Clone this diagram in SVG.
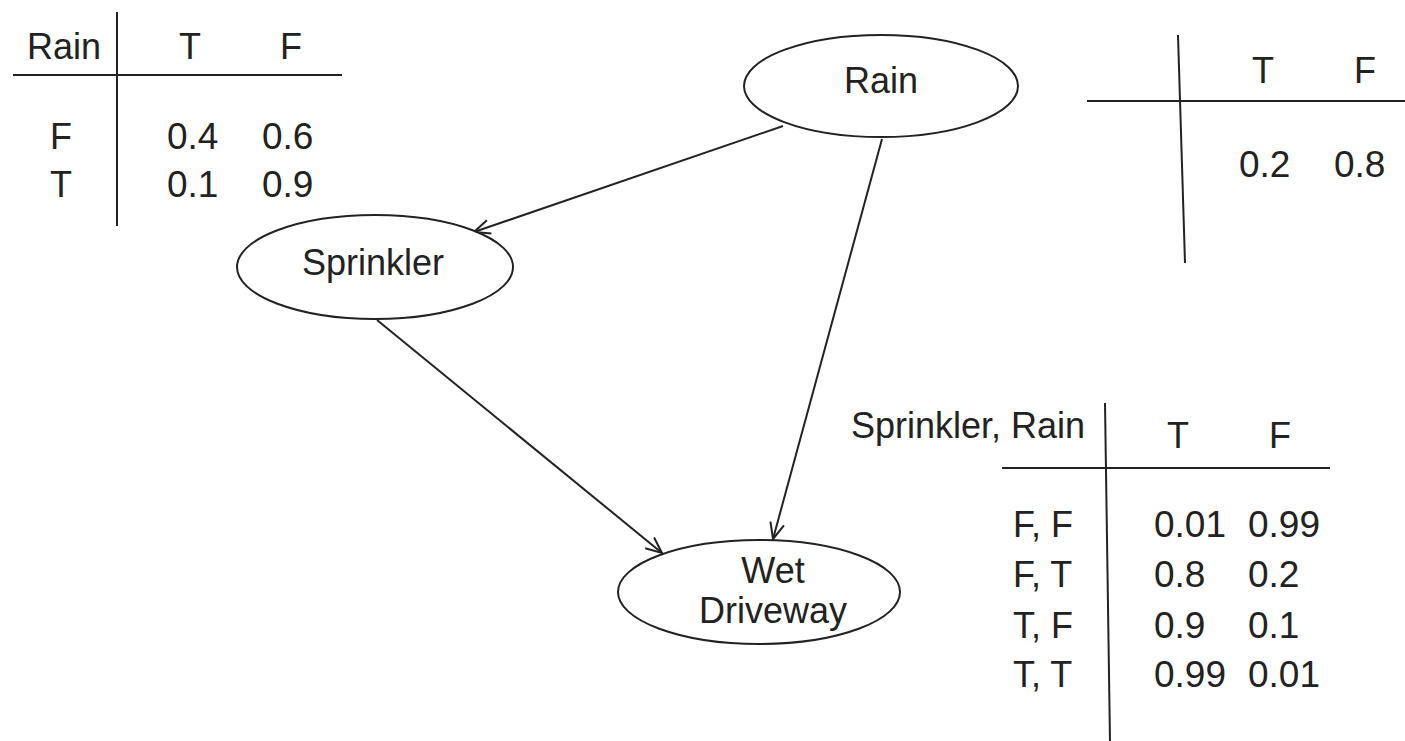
<svg xmlns="http://www.w3.org/2000/svg" width="1405" height="741" viewBox="0 0 1405 741">
<defs>
<style>
text{font-family:"Liberation Sans",Arial,sans-serif;font-size:36px;fill:#222}
.n{font-size:37px}
.m{text-anchor:middle}
.e{text-anchor:end}
.rule{stroke:#222;stroke-width:2;fill:none}
.node{fill:#fff;stroke:#222;stroke-width:2}
.conn{stroke:#222;stroke-width:2;fill:none;marker-end:url(#arr)}
</style>
<marker id="arr" viewBox="0 0 20 20" refX="18" refY="10" markerWidth="20" markerHeight="20" markerUnits="userSpaceOnUse" orient="auto">
<path d="M2,3 L18,10 L2,17" fill="none" stroke="#222" stroke-width="2"/>
</marker>
</defs>
<rect width="1405" height="741" fill="#fff"/>

<g id="table-sprinkler">
<line class="rule" x1="117" y1="12" x2="117" y2="226"/>
<line class="rule" x1="13" y1="75" x2="342" y2="75"/>
<text x="101" y="59" class="e">Rain</text>
<text x="190" y="59" class="m">T</text>
<text x="291" y="59" class="m">F</text>
<text x="61" y="149" class="m">F</text>
<text x="61" y="197" class="m">T</text>
<text x="167" y="149" class="n">0.4</text>
<text x="262" y="149" class="n">0.6</text>
<text x="167" y="197" class="n">0.1</text>
<text x="262" y="197" class="n">0.9</text>
</g>

<g id="table-rain">
<line class="rule" x1="1178" y1="35" x2="1185" y2="263"/>
<line class="rule" x1="1087" y1="101" x2="1405" y2="101"/>
<text x="1263" y="83" class="m">T</text>
<text x="1365" y="83" class="m">F</text>
<text x="1239" y="177" class="n">0.2</text>
<text x="1334" y="177" class="n">0.8</text>
</g>

<g id="table-wet">
<line class="rule" x1="1105" y1="403" x2="1110" y2="741"/>
<line class="rule" x1="1002" y1="468" x2="1330" y2="468"/>
<text x="1085" y="438" class="e">Sprinkler, Rain</text>
<text x="1178" y="448" class="m">T</text>
<text x="1280" y="448" class="m">F</text>
<text x="1013" y="537">F, F</text>
<text x="1013" y="587">F, T</text>
<text x="1013" y="638">T, F</text>
<text x="1013" y="687">T, T</text>
<text x="1154" y="537" class="n">0.01</text>
<text x="1248" y="537" class="n">0.99</text>
<text x="1154" y="587" class="n">0.8</text>
<text x="1248" y="587" class="n">0.2</text>
<text x="1154" y="638" class="n">0.9</text>
<text x="1248" y="638" class="n">0.1</text>
<text x="1154" y="687" class="n">0.99</text>
<text x="1248" y="687" class="n">0.01</text>
</g>

<g id="connectors">
<line class="conn" x1="783" y1="126" x2="474" y2="232"/>
<line class="conn" x1="882" y1="139" x2="773" y2="539"/>
<line class="conn" x1="377" y1="320" x2="662" y2="553"/>
</g>

<g id="node-rain">
<ellipse class="node" cx="881" cy="86" rx="137" ry="51"/>
<text x="881" y="93" class="m">Rain</text>
</g>

<g id="node-sprinkler">
<ellipse class="node" cx="375" cy="267" rx="138" ry="52"/>
<text x="373" y="275" class="m">Sprinkler</text>
</g>

<g id="node-wet">
<ellipse class="node" cx="759" cy="592" rx="141" ry="52"/>
<text x="773" y="583" class="m">Wet</text>
<text x="773" y="623" class="m">Driveway</text>
</g>
</svg>
